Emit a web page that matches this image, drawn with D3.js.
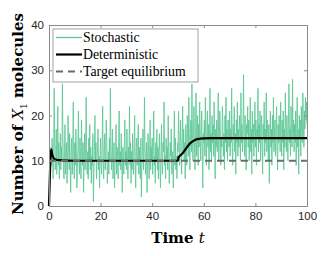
<!DOCTYPE html>
<html><head><meta charset="utf-8">
<script src="https://cdn.jsdelivr.net/npm/d3@7"></script>
<style>body{margin:0;background:#fff}svg{display:block}</style>
</head><body>
<svg id="c" width="332" height="256"></svg>
<script>
const xTicks = [0, 20, 40, 60, 80, 100];
const yTicks = [0, 10, 20, 30, 40];
const stochStep = 0.2;
const stochValues = [
0, 3, 7, 10, 13, 9, 15, 11, 6, 12, 26, 14, 8, 10, 17, 7, 12, 22, 9, 14, 6, 11, 16, 8, 13,
10, 27, 15, 9, 6, 12, 18, 7, 11, 14, 5, 10, 20, 13, 8, 16, 9, 3, 12, 15, 7, 11, 23, 10, 6,
14, 9, 17, 12, 4, 8, 13, 21, 10, 7, 15, 11, 6, 19, 12, 9, 14, 3, 10, 16, 8, 13, 24, 11, 7,
12, 6, 15, 10, 18, 8, 13, 5, 11, 9, 16, 1, 7, 12, 20, 10, 14, 6, 9, 13, 17, 8, 11, 4, 12,
15, 9, 7, 13, 22, 10, 6, 12, 16, 8, 11, 19, 14, 5, 9, 12, 7, 15, 10, 26, 13, 8, 11, 17, 6,
10, 14, 4, 9, 12, 18, 7, 13, 11, 6, 15, 21, 9, 12, 8, 16, 10, 3, 13, 11, 7, 14, 19, 9, 12,
8, 17, 11, 6, 13, 10, 22, 9, 14, 5, 12, 8, 16, 11, 7, 13, 20, 10, 4, 12, 15, 9, 11, 18, 7,
13, 10, 6, 15, 2, 9, 12, 17, 8, 11, 24, 13, 7, 10, 14, 3, 9, 16, 12, 6, 11, 19, 8, 13, 10,
15, 7, 12, 21, 9, 11, 5, 14, 10, 17, 8, 13, 6, 12, 16, 9, 4, 11, 18, 10, 7, 14, 12, 23, 9,
11, 6, 15, 10, 13, 8, 20, 12, 5, 9, 14, 11, 17, 7, 12, 10, 4, 13, 21, 9, 15, 8, 11, 6, 14,
12, 21, 16, 9, 13, 19, 11, 7, 15, 22, 12, 17, 10, 14, 6, 18, 13, 9, 20, 15, 11, 24, 14, 8, 16,
19, 12, 27, 15, 10, 17, 22, 13, 8, 16, 25, 11, 14, 20, 9, 18, 13, 23, 15, 10, 17, 21, 12, 4, 16,
14, 19, 11, 24, 15, 9, 17, 21, 13, 18, 8, 15, 26, 12, 16, 10, 20, 14, 18, 11, 23, 15, 6, 17, 13,
19, 12, 16, 25, 10, 14, 21, 17, 9, 15, 13, 22, 18, 11, 16, 8, 20, 14, 24, 12, 17, 10, 19, 15, 13,
21, 11, 17, 14, 26, 13, 9, 18, 15, 22, 12, 16, 7, 19, 14, 23, 11, 17, 13, 20, 16, 10, 25, 14, 18,
12, 17, 29, 15, 11, 20, 14, 8, 18, 16, 22, 13, 19, 10, 15, 24, 12, 17, 7, 21, 14, 18, 11, 16, 23,
13, 19, 9, 17, 15, 26, 12, 18, 14, 21, 10, 16, 20, 13, 7, 18, 15, 23, 11, 17, 14, 25, 12, 19, 16,
10, 18, 5, 15, 21, 13, 17, 9, 20, 14, 24, 12, 16, 19, 11, 15, 22, 13, 8, 18, 14, 20, 16, 12, 23,
15, 11, 19, 14, 21, 8, 17, 13, 25, 16, 12, 20, 15, 10, 18, 27, 14, 17, 11, 22, 16, 13, 28, 15, 19,
12, 18, 14, 21, 9, 16, 24, 13, 17, 7, 20, 15, 19, 11, 22, 16, 14, 25, 18, 13, 21, 17, 24, 19, 23,
18
];
const detTimes  = [0, 0.3, 0.6, 0.9, 1.2, 1.6, 2, 3, 5, 10, 50, 50.2, 51, 52, 53, 54, 55, 56, 57, 58, 60, 63, 66, 100];
const detValues = [0, 6, 11, 12.5, 11.5, 10.8, 10.4, 10.2, 10.1, 10, 10, 10.8, 11.2, 11.8, 12.6, 13.4, 14.0, 14.4, 14.7, 14.85, 14.95, 15, 15, 15];
const targetTimes = [0, 100];
const targetValues = [10, 10];
const legendLabels = ["Stochastic", "Deterministic", "Target equilibrium"];

const svg = d3.select("#c");
const L = 49, R = 307, T = 25, B = 206;
const x = d3.scaleLinear().domain([0, 100]).range([L, R]);
const y = d3.scaleLinear().domain([0, 40]).range([B, T]);

const green = "#5cc795";
const stoch = stochValues.map((v, i) => [i * stochStep, v]);
const line = d3.line().x(d => x(d[0])).y(d => y(d[1]));
svg.append("path").datum(stoch).attr("d", line).attr("fill", "none")
  .attr("stroke", green).attr("stroke-width", 1).attr("stroke-opacity", 0.85);

const det = detTimes.map((t, i) => [t, detValues[i]]);
svg.append("path").datum(det).attr("d", d3.line().curve(d3.curveMonotoneX).x(d => x(d[0])).y(d => y(d[1])))
  .attr("fill", "none").attr("stroke", "#000").attr("stroke-width", 2.2);

const tgt = targetTimes.map((t, i) => [t, targetValues[i]]);
svg.append("path").datum(tgt).attr("d", line).attr("fill", "none")
  .attr("stroke", "#6b6b6b").attr("stroke-width", 2).attr("stroke-dasharray", "7,5");

// axes
const axColor = "#8c8c8c";
const gx = svg.append("g").attr("transform", `translate(0,${B})`)
  .call(d3.axisBottom(x).tickValues(xTicks).tickSize(-3).tickPadding(6));
const gxt = svg.append("g").attr("transform", `translate(0,${T})`)
  .call(d3.axisTop(x).tickValues(xTicks).tickSize(-3).tickFormat(""));
const gy = svg.append("g").attr("transform", `translate(${L},0)`)
  .call(d3.axisLeft(y).tickValues(yTicks).tickSize(-3).tickPadding(5));
const gyr = svg.append("g").attr("transform", `translate(${R},0)`)
  .call(d3.axisRight(y).tickValues(yTicks).tickSize(-3).tickFormat(""));
[gx, gxt, gy, gyr].forEach(g => {
  g.selectAll("path,line").attr("stroke", axColor);
  g.selectAll("text").attr("fill", "#262626").style("font-family", "Liberation Sans, Arial, sans-serif").style("font-size", "11.5px");
});

// legend
const lg = svg.append("g");
lg.append("rect").attr("x", 53).attr("y", 29).attr("width", 145).attr("height", 53)
  .attr("fill", "#fff").attr("stroke", "#8c8c8c").attr("stroke-width", 0.8);
const lStyles = [
  {c: green, w: 1.3, d: null},
  {c: "#000", w: 2.2, d: null},
  {c: "#6b6b6b", w: 2, d: "7,5"}
];
legendLabels.forEach((lab, i) => {
  const yy = 37.5 + i * 17;
  const ln = lg.append("line").attr("x1", 56).attr("x2", 82).attr("y1", yy).attr("y2", yy)
    .attr("stroke", lStyles[i].c).attr("stroke-width", lStyles[i].w);
  if (lStyles[i].d) ln.attr("stroke-dasharray", lStyles[i].d);
  lg.append("text").attr("x", 83).attr("y", yy + 4.5).text(lab)
    .style("font-family", "Liberation Serif, Times New Roman, serif").style("font-size", "13.8px").attr("fill", "#000");
});

// axis labels
const lblFont = "DejaVu Serif, serif";
const xl = svg.append("text").attr("x", 178).attr("y", 243).attr("text-anchor", "middle")
  .style("font-family", lblFont).style("font-size", "15px").style("font-weight", "bold");
xl.append("tspan").text("Time ");
xl.append("tspan").text("t").style("font-style", "italic").style("font-weight", "normal");

const yl = svg.append("text").attr("transform", "translate(23,114) rotate(-90)").attr("text-anchor", "middle")
  .style("font-family", lblFont).style("font-size", "15px").style("font-weight", "bold");
yl.append("tspan").text("Number of ");
yl.append("tspan").text("X").style("font-style", "italic").style("font-weight", "normal");
yl.append("tspan").text("1").attr("dy", 4).style("font-size", "9px").style("font-weight", "normal");
yl.append("tspan").text(" molecules").attr("dy", -4);
</script>
</body></html>
